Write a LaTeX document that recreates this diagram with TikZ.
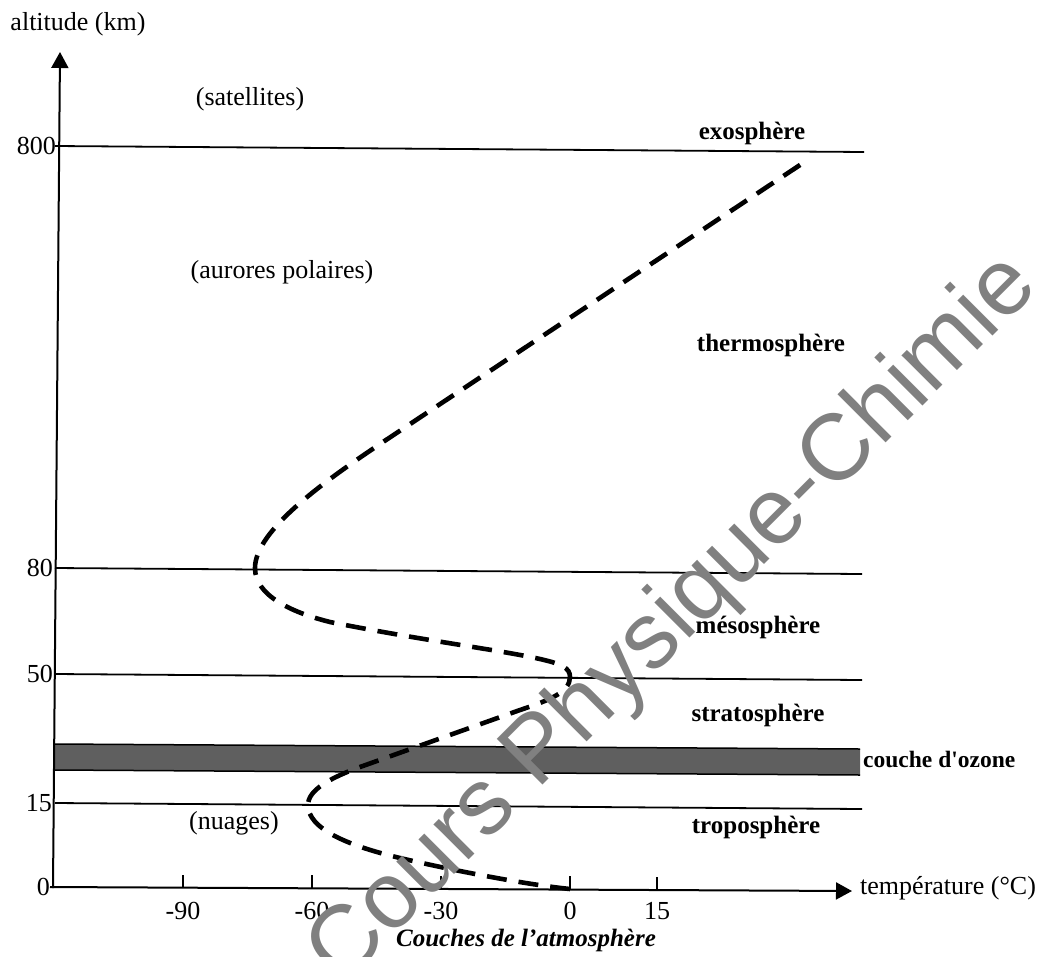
\documentclass[tikz,border=0pt]{standalone}
\usepackage{fontspec}
\setmainfont{Liberation Serif}
\newfontfamily\wmfont{Liberation Sans}
\usetikzlibrary{arrows.meta}
\definecolor{wmgray}{RGB}{128,128,128}
\definecolor{bandgray}{RGB}{95,95,95}
\newcommand{\straightquote}{\XeTeXglyph\XeTeXcharglyph"0027\relax}
\begin{document}
\begin{tikzpicture}[x=1pt,y=-1pt,
  lbl/.style={inner sep=0pt, font=\fontsize{26}{30}\selectfont},
  layer/.style={inner sep=0pt, font=\bfseries\fontsize{25}{29}\selectfont},
  hline/.style={line width=1.8pt},
  axisline/.style={line width=2pt, -{Triangle[length=16pt,width=17pt]}},
  tickmark/.style={line width=1.8pt},
  curve/.style={line width=4.6pt, dash pattern=on 20pt off 12pt},
  wm/.style={inner sep=0pt, text=wmgray, rotate=45, font=\wmfont\fontsize{94}{100}\selectfont},
]
\useasboundingbox (0,0) rectangle (1052,956);

% ozone band
\coordinate (bta) at (55,744); \coordinate (btb) at (860,749);
\coordinate (bba) at (55,770); \coordinate (bbb) at (860,775);
\fill[bandgray] (bta) -- (btb) -- (bbb) -- (bba) -- cycle;
\draw[line width=1.5pt] (bta) -- (btb);
\draw[line width=1.5pt] (bba) -- (bbb);

% horizontal layer limits
\coordinate (l800a) at (55,146); \coordinate (l800b) at (864,152);
\coordinate (l80a) at (55,568);  \coordinate (l80b) at (862,574);
\coordinate (l50a) at (55,674);  \coordinate (l50b) at (862,680);
\coordinate (l15a) at (55,803);  \coordinate (l15b) at (862,809);
\draw[hline] (l800a) -- (l800b);
\draw[hline] (l80a) -- (l80b);
\draw[hline] (l50a) -- (l50b);
\draw[hline] (l15a) -- (l15b);

% axes
\coordinate (yo) at (53,888);
\coordinate (ytip) at (60,52);
\coordinate (xo) at (50,887);
\coordinate (xtip) at (852,891);
\draw[axisline] (yo) -- (ytip);
\draw[axisline] (xo) -- (xtip);

% y labels
\node[lbl, anchor=east] (y800) at (56,146) {800};
\node[lbl, anchor=east] (y80) at (53,568) {80};
\node[lbl, anchor=east] (y50) at (53,674) {50};
\node[lbl, anchor=east] (y15) at (52,803) {15};
\node[lbl, anchor=east] (y0) at (50,887) {0};
\node[lbl] (ylab) at (78,24) {altitude (km)};

% x ticks and labels
\node[lbl] (xm90) at (183,911) {-90};
\node[lbl] (xm60) at (312,911) {-60};
\node[lbl] (xm30) at (441,911) {-30};
\node[lbl] (x0) at (570,911) {0};
\node[lbl] (x15) at (657,911) {15};
\coordinate (t1) at (183,888); \coordinate (t2) at (312,888);
\coordinate (t3) at (441,889); \coordinate (t4) at (570,889);
\coordinate (t5) at (657,890);
\draw[tickmark] (t1) -- ++(0,-13);
\draw[tickmark] (t2) -- ++(0,-13);
\draw[tickmark] (t3) -- ++(0,-13);
\draw[tickmark] (t4) -- ++(0,-13);
\draw[tickmark] (t5) -- ++(0,-13);
\node[lbl, anchor=west] (xlab) at (860,888) {température (°C)};

% region labels
\node[lbl] (sat) at (250,99) {(satellites)};
\node[lbl] (aur) at (282,272) {(aurores polaires)};
\node[lbl] (nua) at (234,823) {(nuages)};
\node[layer] (exo) at (752,133) {exosphère};
\node[layer] (thermo) at (771,345) {thermosphère};
\node[layer] (meso) at (758,627) {mésosphère};
\node[layer] (strato) at (758,715) {stratosphère};
\node[layer] (tropo) at (756,827) {troposphère};
\node[inner sep=0pt, anchor=west, font=\bfseries\fontsize{23.5}{27}\selectfont] (ozone) at (863,759) {couche d\straightquote ozone};
\node[inner sep=0pt, font=\bfseries\itshape\fontsize{25}{29}\selectfont] (cap) at (526,940) {Couches de l’atmosphère};

% temperature profile
\coordinate (v0) at (570,889);
\coordinate (v15) at (308,805);
\coordinate (v50) at (570,677);
\coordinate (v80) at (255,568);
\coordinate (vtop) at (803,163);
\draw[curve] (v0) .. controls (530,885) and (460,872) .. (400,858)
  .. controls (345,845) and (308,828) .. (v15)
  .. controls (308,790) and (330,778) .. (360,767)
  -- (520,710)
  .. controls (550,700) and (570,692) .. (v50)
  .. controls (570,668) and (562,664) .. (540,659)
  .. controls (500,650) and (420,640) .. (330,622)
  .. controls (290,612) and (255,595) .. (v80)
  .. controls (255,530) and (326,480) .. (386,440)
  -- (vtop);

% watermark
\node[wm] (wmark) at (674,620) {Cours Physique-Chimie};
\end{tikzpicture}
\end{document}
